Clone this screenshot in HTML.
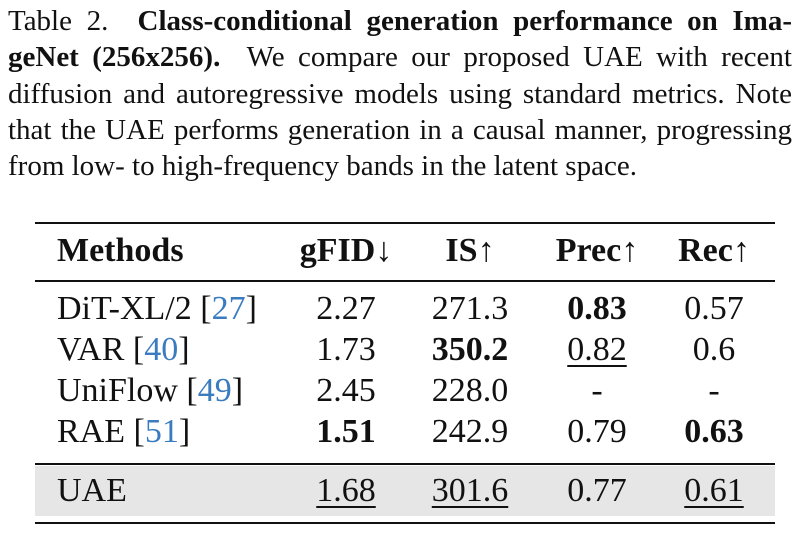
<!DOCTYPE html>
<html><head><meta charset="utf-8"><style>
body{margin:0;width:800px;height:537px;background:#fff;position:relative;overflow:hidden;font-family:"Liberation Serif",serif;color:#111}
.l{position:absolute;left:8px;width:784px;font-size:29px;line-height:29px;white-space:nowrap;text-align:justify;text-align-last:justify}
.l.last{text-align-last:left}
.t{position:absolute;font-size:34px;line-height:34px;white-space:nowrap}
.c{transform:translateX(-50%)}
.rule{position:absolute;left:35px;width:740px;background:#111}
.cite{color:#3b7bbf}
.u{text-decoration:underline;text-underline-offset:5px;text-decoration-thickness:1.5px}
b{font-weight:bold}
</style></head><body>
<div class="l" style="top:7px">Table 2.&nbsp; <b>Class-conditional generation performance on Ima-</b></div>
<div class="l" style="top:43px"><b>geNet (256x256).</b>&nbsp; We compare our proposed UAE with recent</div>
<div class="l" style="top:80px">diffusion and autoregressive models using standard metrics. Note</div>
<div class="l" style="top:116px">that the UAE performs generation in a causal manner, progressing</div>
<div class="l last" style="top:152px">from low- to high-frequency bands in the latent space.</div>

<div class="rule" style="top:222px;height:2px"></div>
<div class="rule" style="top:280px;height:1.5px"></div>
<div class="rule" style="top:463px;height:1.5px"></div>
<div style="position:absolute;left:35px;width:740px;top:466px;height:50px;background:#e6e6e6"></div>
<div class="rule" style="top:522px;height:2px"></div>

<div class="t" style="left:57px;top:234px"><b>Methods</b></div>
<div class="t c" style="left:346px;top:234px"><b>gFID</b>↓</div>
<div class="t c" style="left:470px;top:234px"><b>IS</b>↑</div>
<div class="t c" style="left:597px;top:234px"><b>Prec</b>↑</div>
<div class="t c" style="left:714px;top:234px"><b>Rec</b>↑</div>

<div class="t" style="left:57px;top:292px">DiT-XL/2 [<span class="cite">27</span>]</div>
<div class="t c" style="left:346px;top:292px">2.27</div>
<div class="t c" style="left:470px;top:292px">271.3</div>
<div class="t c" style="left:597px;top:292px"><b>0.83</b></div>
<div class="t c" style="left:714px;top:292px">0.57</div>

<div class="t" style="left:57px;top:333px">VAR [<span class="cite">40</span>]</div>
<div class="t c" style="left:346px;top:333px">1.73</div>
<div class="t c" style="left:470px;top:333px"><b>350.2</b></div>
<div class="t c" style="left:597px;top:333px"><span class="u">0.82</span></div>
<div class="t c" style="left:714px;top:333px">0.6</div>

<div class="t" style="left:57px;top:374px">UniFlow [<span class="cite">49</span>]</div>
<div class="t c" style="left:346px;top:374px">2.45</div>
<div class="t c" style="left:470px;top:374px">228.0</div>
<div class="t c" style="left:597px;top:374px">-</div>
<div class="t c" style="left:714px;top:374px">-</div>

<div class="t" style="left:57px;top:415px">RAE [<span class="cite">51</span>]</div>
<div class="t c" style="left:346px;top:415px"><b>1.51</b></div>
<div class="t c" style="left:470px;top:415px">242.9</div>
<div class="t c" style="left:597px;top:415px">0.79</div>
<div class="t c" style="left:714px;top:415px"><b>0.63</b></div>

<div class="t" style="left:57px;top:474px">UAE</div>
<div class="t c" style="left:346px;top:474px"><span class="u">1.68</span></div>
<div class="t c" style="left:470px;top:474px"><span class="u">301.6</span></div>
<div class="t c" style="left:597px;top:474px">0.77</div>
<div class="t c" style="left:714px;top:474px"><span class="u">0.61</span></div>
</body></html>
